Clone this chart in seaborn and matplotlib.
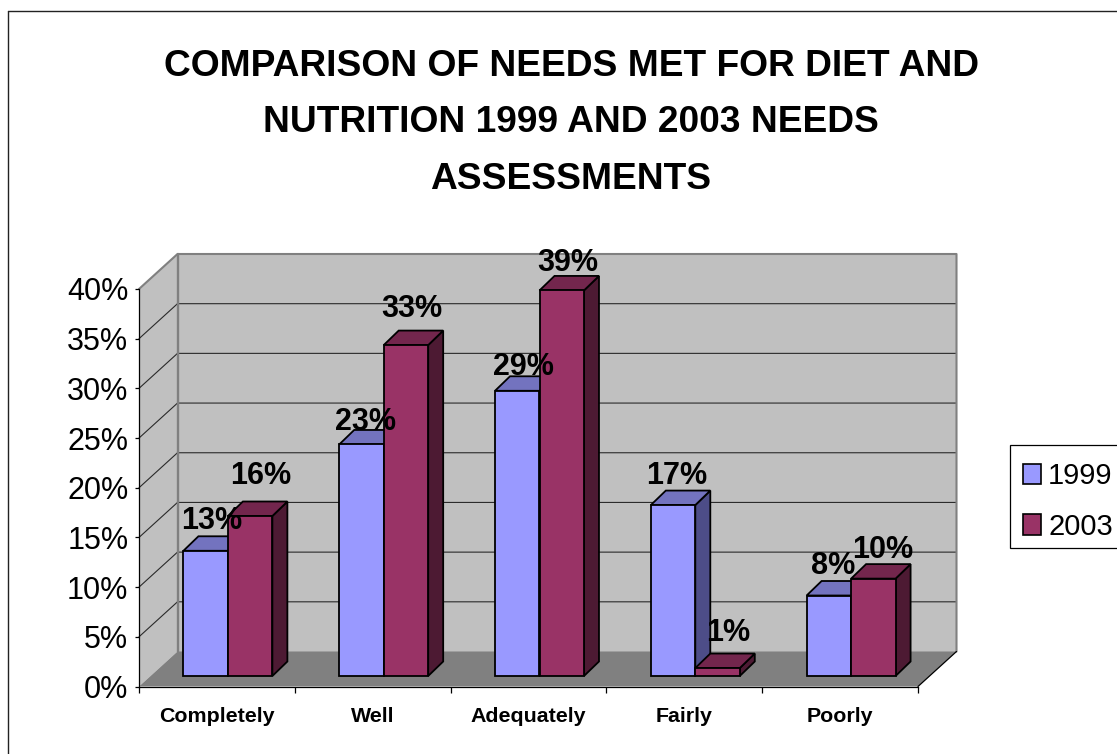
import matplotlib
matplotlib.use("Agg")
import matplotlib.pyplot as plt
from matplotlib.lines import Line2D
from matplotlib.patches import Polygon, Patch, Rectangle
from matplotlib.ticker import FixedLocator
import pandas as pd
import seaborn as sns

# Survey results, percent of respondents
categories = ["Completely", "Well", "Adequately", "Fairly", "Poorly"]
values_1999 = [12.6, 23.3, 28.7, 17.2, 8.1]
values_2003 = [16.1, 33.3, 38.8, 0.8, 9.8]
years = ["1999", "2003"]
y_ticks = [0, 5, 10, 15, 20, 25, 30, 35, 40]
title_text = ("COMPARISON OF NEEDS MET FOR DIET AND\n"
              "NUTRITION 1999 AND 2003 NEEDS\n"
              "ASSESSMENTS")

# Label nudges in pixels (right, up) from the front top centre of each bar
nudge_1999 = [(6, 30), (4, 22), (6, 24), (4, 29), (4, 30)]
nudge_2003 = [(11, 40), (6, 36), (6, 27), (11, 35), (9, 29)]

FRONT = {"1999": "#9999FF", "2003": "#993366"}
TOP = {"1999": "#7373BF", "2003": "#73264D"}
SIDE = {"1999": "#4D4D88", "2003": "#4D1A33"}
WALL = "#C0C0C0"
FLOOR = "#808080"
EDGE = "#000000"
W, H = 1117, 754

sns.set_theme(style="white")
plt.rcParams["font.family"] = ["Liberation Sans", "DejaVu Sans"]

fig = plt.figure(figsize=(W / 100, H / 100), dpi=100, facecolor="white")
ax = fig.add_axes([139 / W, 1 - 686.5 / H, (918 - 139) / W, (686.5 - 289) / H])

df = pd.DataFrame({
    "category": categories * 2,
    "share": values_1999 + values_2003,
    "year": [years[0]] * len(categories) + [years[1]] * len(categories),
})
sns.barplot(data=df, x="category", y="share", hue="year", order=categories,
            hue_order=years, palette=FRONT, width=0.571, gap=0, saturation=1,
            errorbar=None, edgecolor=EDGE, linewidth=1.3, legend=False, ax=ax)

xmin, xmax = -0.5, len(categories) - 0.5
ymin, ymax = y_ticks[0], y_ticks[-1]
ax.set_xlim(xmin, xmax)
ax.set_ylim(ymin, ymax)
ux = (918 - 139) / (xmax - xmin)   # pixels per category
uy = (686.5 - 289) / (ymax - ymin)  # pixels per percent

# Depth of the box, and of the bars standing inside it
box_dx, box_dy = 38.5 / ux, 35 / uy
bar_dx, bar_dy = 15 / ux, 14.5 / uy
shift_x, shift_y = 11 / ux, 10.5 / uy


def poly(points, face, edge=None, lw=0.0, z=1.0):
    ax.add_patch(Polygon(points, closed=True, facecolor=face, edgecolor=edge or face,
                         linewidth=lw, zorder=z, clip_on=False, joinstyle="miter"))


# Left wall, back wall, floor
poly([(xmin, ymin), (xmin + box_dx, ymin + box_dy), (xmin + box_dx, ymax + box_dy), (xmin, ymax)],
     WALL, z=0.1)
poly([(xmin + box_dx, ymin + box_dy), (xmax + box_dx, ymin + box_dy),
      (xmax + box_dx, ymax + box_dy), (xmin + box_dx, ymax + box_dy)], WALL, z=0.1)
poly([(xmin, ymin), (xmax, ymin), (xmax + box_dx, ymin + box_dy), (xmin + box_dx, ymin + box_dy)],
     FLOOR, z=0.3)

# Gridlines wrap around the left wall and along the back wall
for v in y_ticks[1:-1]:
    ax.plot([xmin, xmin + box_dx, xmax + box_dx], [v, v + box_dy, v + box_dy],
            color="#2A2A2A", lw=0.8, zorder=0.2, clip_on=False)

# Wall frame
ax.plot([xmin, xmin + box_dx, xmax + box_dx, xmax + box_dx],
        [ymax, ymax + box_dy, ymax + box_dy, ymin + box_dy],
        color="#808080", lw=1.5, zorder=0.25, clip_on=False)
ax.plot([xmin + box_dx, xmin + box_dx], [ymin + box_dy, ymax + box_dy],
        color="#808080", lw=1.7, zorder=0.25, clip_on=False)
ax.plot([xmax, xmax + box_dx], [ymin, ymin + box_dy], color=EDGE, lw=0.9,
        zorder=0.35, clip_on=False)

# Extrude each bar: side and top faces are built from the bar's own rectangle
order = []
n = len(categories)
rects = list(ax.patches)[:2 * n]
for i in range(n):
    order.append((rects[i], years[0], values_1999[i], nudge_1999[i]))
    order.append((rects[n + i], years[1], values_2003[i], nudge_2003[i]))
order.sort(key=lambda item: item[0].get_x())

z = 1.0
for rect, year, value, nudge in order:
    rect.set_x(rect.get_x() + shift_x)
    rect.set_y(shift_y)
    rect.set_clip_on(False)
    x0 = rect.get_x()
    x1 = x0 + rect.get_width()
    y0 = shift_y
    y1 = y0 + rect.get_height()
    poly([(x1, y0), (x1 + bar_dx, y0 + bar_dy), (x1 + bar_dx, y1 + bar_dy), (x1, y1)],
         SIDE[year], EDGE, 1.3, z)
    poly([(x0, y1), (x1, y1), (x1 + bar_dx, y1 + bar_dy), (x0 + bar_dx, y1 + bar_dy)],
         TOP[year], EDGE, 1.3, z + 0.1)
    rect.set_zorder(z + 0.2)
    ax.annotate(f"{value:.0f}%", xy=((x0 + x1) / 2, y1),
                xytext=(nudge[0] * 0.72, nudge[1] * 0.72), textcoords="offset points",
                ha="center", va="center", fontsize=22, fontweight="bold",
                color="black", zorder=50, annotation_clip=False)
    z += 1.0

# Axes
sns.despine(ax=ax, top=True, right=True)
for side in ("left", "bottom"):
    ax.spines[side].set_color("black")
    ax.spines[side].set_linewidth(0.9)
    ax.spines[side].set_zorder(0.4)
ax.set_xlabel("")
ax.set_ylabel("")
ax.set_yticks(y_ticks)
ax.set_yticklabels([f"{v}%" for v in y_ticks], fontsize=22, color="black")
ax.tick_params(axis="y", length=3.2, width=0.9, color="black", pad=4.5, left=True)
ax.set_xticks(range(n))
ax.set_xticklabels(categories, fontsize=15.4, fontweight="bold", color="black")
ax.xaxis.set_minor_locator(FixedLocator([xmin + k for k in range(n + 1)]))
ax.tick_params(axis="x", which="major", length=0, pad=15, bottom=False)
ax.tick_params(axis="x", which="minor", length=4.5, width=0.9, color="black", bottom=True)

fig.text(571 / W, 1 - 123 / H, title_text, ha="center", va="center", fontsize=26.7,
         fontweight="bold", linespacing=1.78, color="black")

# Legend runs off the right side of the canvas
fig.add_artist(Rectangle((1010 / W, 1 - 548 / H), 130 / W, 103 / H, transform=fig.transFigure,
                         facecolor="white", edgecolor="black", linewidth=0.9))
handles = [Patch(facecolor=FRONT[y], edgecolor="black", linewidth=1.2) for y in years]
fig.legend(handles, years, loc="upper left", bbox_to_anchor=(1010 / W, 1 - 449 / H),
           bbox_transform=fig.transFigure, borderaxespad=0, fontsize=21,
           frameon=False, labelcolor="black",
           borderpad=0.45, labelspacing=0.78, handlelength=0.62, handleheight=0.72,
           handletextpad=0.24)

# Outer chart frame along the top and left
frame = "#222222"
fig.add_artist(Line2D([8 / W, 8 / W], [0, 1 - 10.7 / H], color=frame, lw=1.0))
fig.add_artist(Line2D([8 / W, 1], [1 - 10.7 / H, 1 - 10.7 / H], color=frame, lw=1.0))

fig.savefig("out.png", dpi=100, facecolor="white")
